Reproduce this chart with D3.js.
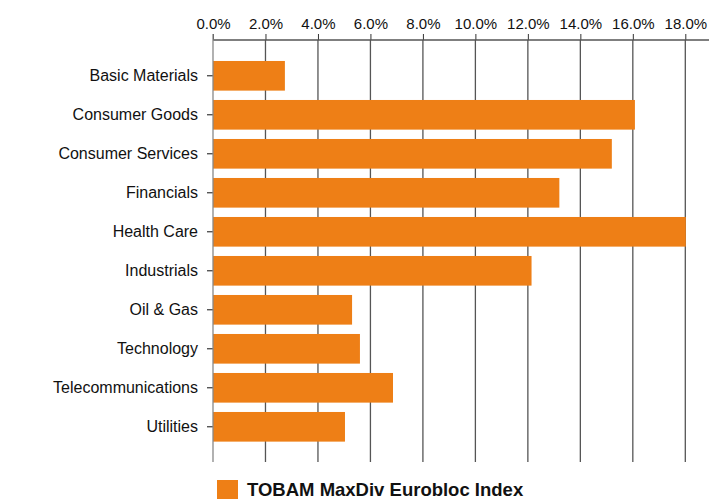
<!DOCTYPE html>
<html lang="en">
<head>
<meta charset="UTF-8">
<title>Sector weights</title>
<script src="https://d3js.org/d3.v7.min.js"></script>
<style>
  html, body { margin: 0; padding: 0; background: #fff; }
  svg text { font-family: "Liberation Sans", Arial, sans-serif; fill: #111; }
</style>
</head>
<body>
<div id="vis"></div>
<script>
var sectors = ["Basic Materials", "Consumer Goods", "Consumer Services", "Financials",
  "Health Care", "Industrials", "Oil & Gas", "Technology", "Telecommunications", "Utilities"];
var weights = [2.74, 16.08, 15.2, 13.2, 18.02, 12.14, 5.3, 5.6, 6.86, 5.03];
var tickValues = [0, 2, 4, 6, 8, 10, 12, 14, 16, 18];
var seriesName = "TOBAM MaxDiv Eurobloc Index";

var width = 727, height = 499;
var plotTop = 40, plotBottom = 462, left = 213;
var orange = "#ee7f16";

var svg = d3.select('#vis').append('svg')
  .attr('width', width)
  .attr('height', height);

var x = d3.scaleLinear().domain([0, 18]).range([left, 685.3]);
var y = d3.scaleBand().domain(sectors).range([56.3, 446.3]).paddingInner(0.24).paddingOuter(0.12);

// gridlines
svg.append('g').selectAll('line')
  .data(tickValues.slice(1))
  .enter().append('line')
  .attr('x1', function(d) { return x(d); })
  .attr('x2', function(d) { return x(d); })
  .attr('y1', plotTop)
  .attr('y2', plotBottom)
  .attr('stroke', '#555')
  .attr('stroke-width', 1.3);

// bars
svg.append('g').selectAll('rect')
  .data(sectors)
  .enter().append('rect')
  .attr('x', x(0))
  .attr('y', function(d) { return y(d); })
  .attr('width', function(d, i) { return x(weights[i]) - x(0); })
  .attr('height', y.bandwidth())
  .attr('fill', orange);

// top axis
var xAxis = d3.axisTop(x)
  .tickValues(tickValues)
  .tickSize(6)
  .tickPadding(5)
  .tickFormat(function(d) { return d.toFixed(1) + '%'; });

var gx = svg.append('g')
  .attr('transform', 'translate(0,' + plotTop + ')')
  .call(xAxis);
gx.select('.domain').remove();
gx.append('line')
  .attr('x1', left).attr('x2', 709)
  .attr('y1', 0).attr('y2', 0)
  .attr('stroke', '#555').attr('stroke-width', 1.3);
gx.selectAll('.tick line').attr('stroke', '#333');
gx.selectAll('.tick text')
  .attr('font-size', 15)
  .attr('font-family', '"Liberation Sans", Arial, sans-serif')
  .attr('fill', '#111');

// left axis
var yAxis = d3.axisLeft(y).tickSize(6).tickPadding(9);
var gy = svg.append('g')
  .attr('transform', 'translate(' + left + ',0)')
  .call(yAxis);
gy.select('.domain').remove();
gy.append('line')
  .attr('x1', 0).attr('x2', 0)
  .attr('y1', plotTop - 6).attr('y2', plotBottom)
  .attr('stroke', '#888').attr('stroke-width', 1.3);
gy.selectAll('.tick line').attr('stroke', '#111');
gy.selectAll('.tick text')
  .attr('font-size', 16)
  .attr('font-family', '"Liberation Sans", Arial, sans-serif')
  .attr('fill', '#111');

// legend
var legend = svg.append('g').attr('transform', 'translate(217,480)');
legend.append('rect')
  .attr('width', 21).attr('height', 19)
  .attr('fill', orange);
legend.append('text')
  .attr('x', 30).attr('y', 16)
  .attr('font-size', 18.5)
  .attr('font-weight', 'bold')
  .text(seriesName);
</script>
</body>
</html>
